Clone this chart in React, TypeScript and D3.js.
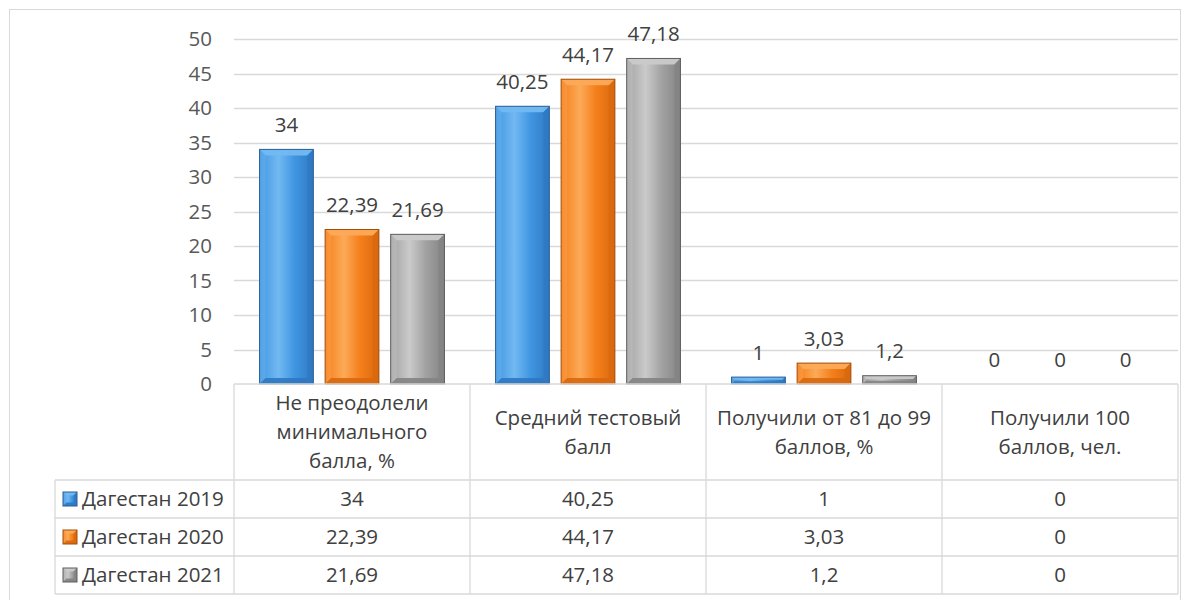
import React from "react";
import * as d3 from "d3";

const categories: string[][] = [
  ["Не преодолели", "минимального", "балла, %"],
  ["Средний тестовый", "балл"],
  ["Получили от 81 до 99", "баллов, %"],
  ["Получили 100", "баллов, чел."],
];
const seriesNames = ["Дагестан 2019", "Дагестан 2020", "Дагестан 2021"];
const values2019 = [34, 40.25, 1, 0];
const values2020 = [22.39, 44.17, 3.03, 0];
const values2021 = [21.69, 47.18, 1.2, 0];
const yTicks = [0, 5, 10, 15, 20, 25, 30, 35, 40, 45, 50];

const seriesValues = [values2019, values2020, values2021];
const palettes = [
  { main: "#4096e2", light: "#72b9f2", dark: "#2f78c2", edge: "#2b5f94" },
  { main: "#f57f1a", light: "#fcaa58", dark: "#d8680e", edge: "#a24e0c" },
  { main: "#a2a2a2", light: "#cacaca", dark: "#838383", edge: "#5e5e5e" },
];

const fmt = (v: number) => String(v).replace(".", ",");
const FONT = "'Open Sans', Lato, sans-serif";
const FS = 20.5;
const TXT = "#404040";
const GRID = "#d9d9d9";

function Bar3D({ x, y, w, h, p, id }: any) {
  if (h <= 0) return null;
  const b = Math.min(6, h / 2.5, w / 4);
  return (
    <g>
      <rect x={x} y={y} width={w} height={h} fill={`url(#g${id})`} />
      <polygon
        points={`${x},${y} ${x + w},${y} ${x + w - b},${y + b} ${x + b},${y + b}`}
        fill={p.light}
        opacity={0.95}
      />
      <polygon
        points={`${x},${y} ${x + b},${y + b} ${x + b},${y + h - b} ${x},${y + h}`}
        fill={p.light}
        opacity={0.35}
      />
      <polygon
        points={`${x + w},${y} ${x + w - b},${y + b} ${x + w - b},${y + h - b} ${x + w},${y + h}`}
        fill={p.dark}
        opacity={0.7}
      />
      <polygon
        points={`${x},${y + h} ${x + b},${y + h - b} ${x + w - b},${y + h - b} ${x + w},${y + h}`}
        fill={p.dark}
        opacity={0.9}
      />
      <rect x={x} y={y} width={w} height={h} fill="none" stroke={p.edge} strokeWidth={1} />
    </g>
  );
}

export default function App() {
  const W = 1192,
    H = 600;
  const left = 234,
    right = 1178,
    top = 39,
    base = 384;
  const y = d3.scaleLinear().domain([0, 50]).range([base, top]);
  const x0 = d3
    .scaleBand<number>()
    .domain(categories.map((_, i) => i))
    .range([left, right]);
  const x1 = d3
    .scaleBand<number>()
    .domain(seriesNames.map((_, i) => i))
    .range([0, x0.bandwidth()])
    .paddingInner(0.18)
    .paddingOuter(0.39);

  const tableLeft = 55;
  const headerBottom = 480;
  const rowH = 38;

  return (
    <svg width={W} height={H} style={{ position: "absolute", left: 0, top: 0 }} fontFamily={FONT}>
      <defs>
        {palettes.map((p, i) => (
          <linearGradient key={i} id={`g${i}`} x1="0" x2="1" y1="0" y2="0">
            <stop offset="0" stopColor={p.main} />
            <stop offset="0.35" stopColor={p.light} />
            <stop offset="0.65" stopColor={p.main} />
            <stop offset="1" stopColor={p.dark} />
          </linearGradient>
        ))}
      </defs>
      <rect x={0} y={0} width={W} height={H} fill="#fff" />
      <rect x={9.5} y={9.5} width={1171} height={600} fill="none" stroke={GRID} />

      {yTicks.map((t) => (
        <g key={t}>
          {t > 0 && (
            <line x1={left} x2={right} y1={Math.round(y(t)) + 0.5} y2={Math.round(y(t)) + 0.5} stroke={GRID} strokeWidth={1.3} />
          )}
          <text x={212} y={y(t)} dy="0.35em" textAnchor="end" fontSize={FS} fill="#595959">
            {t}
          </text>
        </g>
      ))}

      {categories.map((_, ci) =>
        seriesValues.map((vals, si) => {
          const v = vals[ci];
          const bx = (x0(ci) as number) + (x1(si) as number);
          const bw = x1.bandwidth();
          const by = y(v);
          return (
            <g key={`${ci}-${si}`}>
              <Bar3D x={bx} y={by} w={bw} h={base - by} p={palettes[si]} id={si} />
              <text x={bx + bw / 2} y={by - 17.5} textAnchor="middle" fontSize={FS} fill={TXT}>
                {fmt(v)}
              </text>
            </g>
          );
        })
      )}

      <g stroke={GRID} strokeWidth={1.3} fill="none">
        {[...categories.map((_, i) => x0(i) as number), right].map((xx, i) => (
          <line key={`v${i}`} x1={xx} x2={xx} y1={base} y2={headerBottom + rowH * 3} />
        ))}
        <line x1={left} x2={right} y1={base} y2={base} />
        {[0, 1, 2, 3].map((r) => (
          <line key={`h${r}`} x1={tableLeft} x2={right} y1={headerBottom + r * rowH} y2={headerBottom + r * rowH} />
        ))}
        <line x1={tableLeft} x2={tableLeft} y1={headerBottom} y2={headerBottom + rowH * 3} />
      </g>

      {categories.map((lines, ci) => {
        const cx = (x0(ci) as number) + x0.bandwidth() / 2;
        const lh = 29;
        const startY = (base + headerBottom) / 2 - ((lines.length - 1) * lh) / 2;
        return (
          <text key={`c${ci}`} textAnchor="middle" fontSize={FS} fill={TXT}>
            {lines.map((l, li) => (
              <tspan key={li} x={cx} y={startY + li * lh} dy="0.35em">
                {l}
              </tspan>
            ))}
          </text>
        );
      })}

      {seriesNames.map((name, si) => {
        const cy = headerBottom + si * rowH + rowH / 2;
        const p = palettes[si];
        return (
          <g key={`r${si}`}>
            <Bar3D x={63} y={cy - 7} w={14} h={14} p={p} id={si} />
            <text x={82} y={cy} dy="0.35em" fontSize={FS} fill={TXT}>
              {name}
            </text>
            {categories.map((_, ci) => (
              <text
                key={ci}
                x={(x0(ci) as number) + x0.bandwidth() / 2}
                y={cy}
                dy="0.35em"
                textAnchor="middle"
                fontSize={FS}
                fill={TXT}
              >
                {fmt(seriesValues[si][ci])}
              </text>
            ))}
          </g>
        );
      })}
    </svg>
  );
}
